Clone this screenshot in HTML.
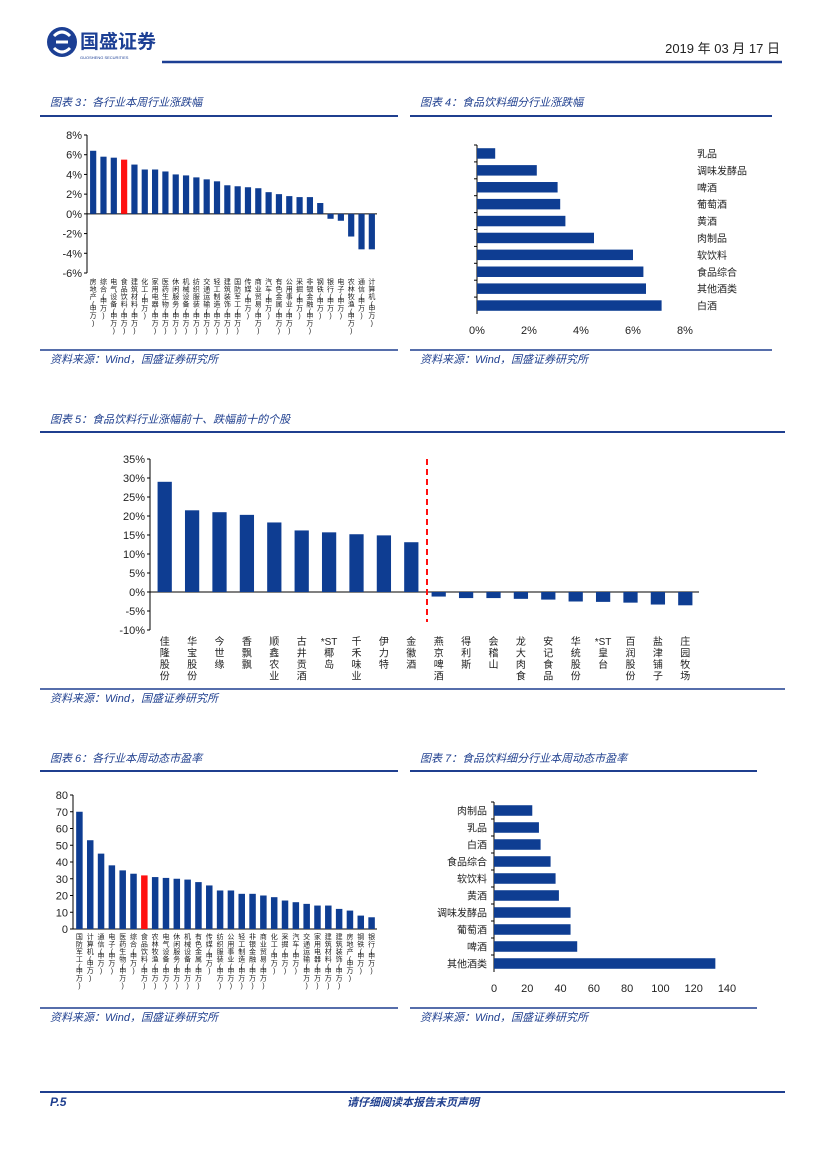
<!DOCTYPE html>
<html><head><meta charset="utf-8">
<style>
html,body{margin:0;padding:0;background:#fff;}
body{width:827px;height:1169px;position:relative;overflow:hidden;font-family:"Liberation Sans","Noto Sans CJK SC",sans-serif;}
svg text{font-family:"Liberation Sans","Noto Sans CJK SC",sans-serif;}
.t{fill:#1f3f8f;font-style:italic;font-size:11px;}
</style></head>
<body>
<svg id="s" width="827" height="1169" viewBox="0 0 827 1169">
<g>
 <circle cx="62" cy="42" r="15" fill="#1c3f94"/>
 <path d="M54 36 q8 -8 16 0 M54 48 q8 8 16 0 M56 42 h12" stroke="#fff" stroke-width="3" fill="none"/>
 <text x="80" y="48" font-size="19" font-weight="bold" fill="#1c3f94">国盛证券</text>
 <text x="80" y="59" font-size="4" fill="#1c3f94">GUOSHENG SECURITIES</text>
 <line x1="162" y1="62" x2="782" y2="62" stroke="#1c3f94" stroke-width="2.5"/>
 <text x="780" y="53" font-size="13" text-anchor="end" fill="#222">2019 年 03 月 17 日</text>
</g>
<text class="t" x="50" y="106">图表 3：各行业本周行业涨跌幅</text>
<line x1="40" y1="116" x2="398" y2="116" stroke="#1f3f8f" stroke-width="2"/>
<text class="t" x="420" y="106">图表 4：食品饮料细分行业涨跌幅</text>
<line x1="410" y1="116" x2="772" y2="116" stroke="#1f3f8f" stroke-width="2"/>
<line x1="40" y1="350" x2="398" y2="350" stroke="#1f3f8f" stroke-width="1.5"/>
<line x1="410" y1="350" x2="772" y2="350" stroke="#1f3f8f" stroke-width="1.5"/>
<text class="t" x="50" y="363">资料来源：Wind，国盛证券研究所</text>
<text class="t" x="420" y="363">资料来源：Wind，国盛证券研究所</text>
<text class="t" x="50" y="423">图表 5：食品饮料行业涨幅前十、跌幅前十的个股</text>
<line x1="40" y1="432" x2="785" y2="432" stroke="#1f3f8f" stroke-width="2"/>
<line x1="40" y1="689" x2="785" y2="689" stroke="#1f3f8f" stroke-width="1.5"/>
<text class="t" x="50" y="702">资料来源：Wind，国盛证券研究所</text>
<text class="t" x="50" y="762">图表 6：各行业本周动态市盈率</text>
<line x1="40" y1="771" x2="398" y2="771" stroke="#1f3f8f" stroke-width="2"/>
<text class="t" x="420" y="762">图表 7：食品饮料细分行业本周动态市盈率</text>
<line x1="410" y1="771" x2="757" y2="771" stroke="#1f3f8f" stroke-width="2"/>
<line x1="40" y1="1008" x2="398" y2="1008" stroke="#1f3f8f" stroke-width="1.5"/>
<line x1="410" y1="1008" x2="757" y2="1008" stroke="#1f3f8f" stroke-width="1.5"/>
<text class="t" x="50" y="1021">资料来源：Wind，国盛证券研究所</text>
<text class="t" x="420" y="1021">资料来源：Wind，国盛证券研究所</text>
<line x1="40" y1="1092" x2="785" y2="1092" stroke="#1f3f8f" stroke-width="2"/>
<text x="50" y="1106" font-size="12" font-weight="bold" font-style="italic" fill="#1f3f8f">P.5</text>
<text x="413" y="1106" font-size="11" font-weight="bold" font-style="italic" fill="#1f3f8f" text-anchor="middle">请仔细阅读本报告末页声明</text>
<g id="c3"></g><g id="c4"></g><g id="c5"></g><g id="c6"></g><g id="c7"></g>
</svg>
<script>
const c3Cats=["房地产","综合","电气设备","食品饮料","建筑材料","化工","家用电器","医药生物","休闲服务","机械设备","纺织服装","交通运输","轻工制造","建筑装饰","国防军工","传媒","商业贸易","汽车","有色金属","公用事业","采掘","非银金融","钢铁","银行","电子","农林牧渔","通信","计算机"];
const c3Vals=[6.4,5.8,5.7,5.5,5.0,4.5,4.5,4.3,4.0,3.9,3.7,3.5,3.3,2.9,2.8,2.7,2.6,2.2,2.0,1.8,1.7,1.7,1.1,-0.5,-0.7,-2.3,-3.6,-3.6];
const c3Ticks=[8,6,4,2,0,-2,-4,-6];
const c4Cats=["乳品","调味发酵品","啤酒","葡萄酒","黄酒","肉制品","软饮料","食品综合","其他酒类","白酒"];
const c4Vals=[0.7,2.3,3.1,3.2,3.4,4.5,6.0,6.4,6.5,7.1];
const c4Ticks=[0,2,4,6,8];
const c5Cats=["佳隆股份","华宝股份","今世缘","香飘飘","顺鑫农业","古井贡酒","*ST椰岛","千禾味业","伊力特","金徽酒","燕京啤酒","得利斯","会稽山","龙大肉食","安记食品","华统股份","*ST皇台","百润股份","盐津铺子","庄园牧场"];
const c5Vals=[29.0,21.5,21.0,20.3,18.3,16.2,15.7,15.2,14.9,13.1,-1.2,-1.6,-1.6,-1.8,-2.0,-2.5,-2.6,-2.8,-3.3,-3.5];
const c5Ticks=[35,30,25,20,15,10,5,0,-5,-10];
const c6Cats=["国防军工","计算机","通信","电子","医药生物","综合","食品饮料","农林牧渔","电气设备","休闲服务","机械设备","有色金属","传媒","纺织服装","公用事业","轻工制造","非银金融","商业贸易","化工","采掘","汽车","交通运输","家用电器","建筑材料","建筑装饰","房地产","钢铁","银行"];
const c6Vals=[70,53,45,38,35,33,32,31,30.5,30,29.5,28,26,23,23,21,21,20,19,17,16,15,14,14,12,11,8,7];
const c6Ticks=[80,70,60,50,40,30,20,10,0];
const c7Cats=["肉制品","乳品","白酒","食品综合","软饮料","黄酒","调味发酵品","葡萄酒","啤酒","其他酒类"];
const c7Vals=[23,27,28,34,37,39,46,46,50,133];
const c7Ticks=[0,20,40,60,80,100,120,140];
const NS="http://www.w3.org/2000/svg";
const BLUE="#0e3d92",RED="#ff1010";
function mk(p,tag,a){const e=document.createElementNS(NS,tag);for(const k in a)e.setAttribute(k,a[k]);p.appendChild(e);return e;}
function vtext(g,cx,y,str,fs,lh){
 const t=mk(g,"text",{"font-size":fs,fill:"#222","text-anchor":"middle"});
 let yy=y;
 const parts=str.match(/\*ST|\(|\)|./g);
 parts.forEach(ch=>{
  const sp=mk(t,"tspan",{x:cx,y:yy+fs});sp.textContent=ch;
  yy+=(ch==="("||ch===")")?fs*0.6:lh;
 });
 return t;
}

function colChart(id,cats,vals,ticks,o){
 const g=document.getElementById(id);
 const ymax=ticks[0],ymin=ticks[ticks.length-1];
 const ys=v=>o.top+(ymax-v)/(ymax-ymin)*(o.bottom-o.top);
 const step=(o.x1-o.x0)/cats.length;
 mk(g,"line",{x1:o.ax,y1:o.top,x2:o.ax,y2:o.bottom,stroke:"#000","stroke-width":1});
 ticks.forEach(t=>{mk(g,"line",{x1:o.ax-3,y1:ys(t),x2:o.ax,y2:ys(t),stroke:"#000"});
  const tx=mk(g,"text",{x:o.ax-5,y:ys(t)+4,"font-size":11,"text-anchor":"end",fill:"#222"});
  
  
  tx.textContent=t+o.suf;});
 mk(g,"line",{x1:o.ax,y1:ys(0),x2:o.x1,y2:ys(0),stroke:"#000"});
 cats.forEach((c,i)=>{
  const cx=o.x0+step*(i+0.5),v=vals[i];
  const r=mk(g,"rect",{x:cx-step*o.bw/2,y:Math.min(ys(v),ys(0)),width:step*o.bw,height:Math.abs(ys(v)-ys(0)),fill:(o.red===i?RED:BLUE)});
  
  
  const t=vtext(g,cx,o.ly,c+(o.sfx||""),o.fs,o.lh);
  
  
 });
 return ys;
}
function barChart(id,cats,vals,ticks,o){
 const g=document.getElementById(id);
 const xmax=ticks[ticks.length-1];
 const xs=v=>o.x0+v/xmax*(o.x1-o.x0);
 const step=(o.y1-o.y0)/cats.length;
 mk(g,"line",{x1:o.x0,y1:o.y0,x2:o.x0,y2:o.y1,stroke:"#000"});
 ticks.forEach(t=>{const tx=mk(g,"text",{x:xs(t),y:o.ty,"font-size":11,"text-anchor":"middle",fill:"#222"});
  
  
  tx.textContent=t+o.suf;});
 cats.forEach((c,i)=>{
  const cy=o.y0+step*(i+0.5);
  const r=mk(g,"rect",{x:o.x0,y:cy-step*0.31,width:xs(vals[i])-o.x0,height:step*0.62,fill:BLUE});
  
  
  mk(g,"line",{x1:o.x0-3,y1:o.y0+step*i,x2:o.x0,y2:o.y0+step*i,stroke:"#000"});
  const t=mk(g,"text",{x:o.lx,y:cy+4,"font-size":10,"text-anchor":o.anchor,fill:"#222"});
  
  
  t.textContent=c;
 });
}
colChart("c3",c3Cats,c3Vals,c3Ticks,{ax:87,top:135,bottom:273,x0:88,x1:377,bw:0.6,fs:7,lh:7.5,ly:277,suf:"%",red:3,sfx:"(申万)"});
barChart("c4",c4Cats,c4Vals,c4Ticks,{x0:477,x1:685,y0:145,y1:314,ty:334,suf:"%",lx:697,anchor:"start"});
colChart("c5",c5Cats,c5Vals,c5Ticks,{ax:150,top:459,bottom:630,x0:151,x1:699,bw:0.52,fs:10,lh:11.5,ly:635,suf:"%"});
mk(document.getElementById("c5"),"line",{x1:427,y1:459,x2:427,y2:622,stroke:RED,"stroke-width":2,"stroke-dasharray":"6,4"});
colChart("c6",c6Cats,c6Vals,c6Ticks,{ax:73,top:795,bottom:929,x0:74,x1:377,bw:0.6,fs:7,lh:7.5,ly:932,suf:"",red:6,sfx:"(申万)"});
barChart("c7",c7Cats,c7Vals,c7Ticks,{x0:494,x1:727,y0:802,y1:972,ty:992,suf:"",lx:487,anchor:"end"});
</script>
</body></html>
